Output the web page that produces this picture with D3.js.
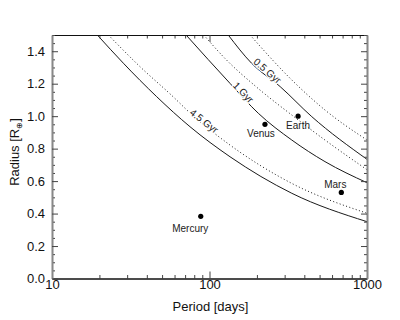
<!DOCTYPE html>
<html>
<head>
<meta charset="utf-8">
<script src="https://cdn.jsdelivr.net/npm/d3@7"></script>
<style>
  body { margin: 0; background: #fff; }
  svg { display: block; font-family: "Liberation Sans", Arial, Helvetica, sans-serif; }
</style>
</head>
<body>
<svg id="chart" width="400" height="320"></svg>
<script>
// period [days] / radius [R_earth] pairs
const p45 = [19.4, 28.4, 46.2, 75.2, 135, 333, 1000];
const r45 = [1.5, 1.326, 1.12, 0.935, 0.75, 0.525, 0.35];
const p45d = [22.8, 36.2, 58.7, 75.2, 135, 333, 1000];
const r45d = [1.5, 1.305, 1.12, 1.02, 0.822, 0.586, 0.402];
const p1 = [71, 135, 204, 333, 541, 1000];
const r1 = [1.5, 1.202, 1.018, 0.853, 0.72, 0.59];
const p1d = [92, 125, 203, 333, 541, 1000];
const r1d = [1.5, 1.357, 1.172, 1.007, 0.853, 0.67];
const p05 = [131.5, 185, 281, 446, 1000];
const r05 = [1.5, 1.326, 1.182, 0.997, 0.734];
const p05d = [181, 333, 541, 1000];
const r05d = [1.5, 1.223, 1.038, 0.853];

const ageLabels = ["4.5 Gyr", "1 Gyr", "0.5 Gyr"];
const agePeriods = [92.3, 164, 233];
const ageRadii = [0.97, 1.146, 1.279];

const planets = ["Mercury", "Venus", "Earth", "Mars"];
const planetPeriods = [88, 225, 365, 687];
const planetRadii = [0.383, 0.95, 1.0, 0.53];

const xTicks = [10, 100, 1000];
const yTicks = [0, 0.2, 0.4, 0.6, 0.8, 1.0, 1.2, 1.4];

// layout
const labelAngle = { "4.5 Gyr": 38, "1 Gyr": 46, "0.5 Gyr": 41 };
const planetOffset = {
  Mercury: [-10.5, 15.5], Venus: [-4, 13.2], Earth: [0, 13], Mars: [-6, -4.2]
};

const svg = d3.select("#chart");
const mLeft = 52, mRight = 367, mTop = 35, mBottom = 278.5;

const x = d3.scaleLog().domain([10, 1000]).range([mLeft, mRight]);
const y = d3.scaleLinear().domain([0, 1.5]).range([mBottom, mTop]);

const xMinor = [];
[10, 100].forEach(d => { for (let k = 2; k <= 9; k++) xMinor.push(d * k); });
const yMinor = d3.range(0, 31).map(i => i * 0.05).filter((v, i) => i % 4 !== 0);

svg.append("clipPath").attr("id", "plot")
  .append("rect").attr("x", mLeft).attr("y", mTop)
  .attr("width", mRight - mLeft).attr("height", mBottom - mTop);

const line = d3.line()
  .x(d => x(d[0]))
  .y(d => y(d[1]))
  .curve(d3.curveMonotoneX);

const curves = [
  [p45, r45, false], [p45d, r45d, true],
  [p1, r1, false], [p1d, r1d, true],
  [p05, r05, false], [p05d, r05d, true]
];

const g = svg.append("g").attr("clip-path", "url(#plot)");
curves.forEach(([ps, rs, dotted]) => {
  g.append("path")
    .datum(ps.map((p, i) => [p, rs[i]]))
    .attr("d", line)
    .attr("fill", "none")
    .attr("stroke", "#1a1a1a")
    .attr("stroke-width", 1)
    .attr("stroke-dasharray", dotted ? "1,2.4" : null);
});

// curve labels
ageLabels.forEach((t, i) => {
  const cx = x(agePeriods[i]), cy = y(ageRadii[i]);
  svg.append("text")
    .attr("transform", `translate(${cx},${cy}) rotate(${labelAngle[t]})`)
    .attr("text-anchor", "middle")
    .attr("dy", "0.35em")
    .attr("font-size", 10)
    .attr("fill", "#222")
    .attr("stroke", "#fff")
    .attr("stroke-width", 2.5)
    .attr("paint-order", "stroke")
    .text(t);
});

// planets
planets.forEach((name, i) => {
  const px = x(planetPeriods[i]), py = y(planetRadii[i]);
  svg.append("circle").attr("cx", px).attr("cy", py).attr("r", 2.6).attr("fill", "#000");
  const [dx, dy] = planetOffset[name];
  svg.append("text")
    .attr("x", px + dx).attr("y", py + dy)
    .attr("text-anchor", "middle")
    .attr("font-size", 10)
    .attr("fill", "#222")
    .text(name);
});

// axes
function styleAxis(sel, domainColor, domainWidth) {
  sel.select(".domain").attr("stroke", domainColor).attr("stroke-width", domainWidth);
  sel.selectAll(".tick line").attr("stroke", "#444");
  sel.selectAll(".tick text").attr("fill", "#111").attr("font-size", 13).attr("font-family", null);
}

const fmt = d3.format(".1f");

svg.append("g").attr("transform", `translate(0,${mBottom})`)
  .call(d3.axisBottom(x).tickValues(xMinor).tickSize(-3.5).tickFormat("").tickSizeOuter(0))
  .call(s => styleAxis(s, "#111", 1));
svg.append("g").attr("transform", `translate(0,${mBottom})`)
  .call(d3.axisBottom(x).tickValues(xTicks).tickSize(-7).tickPadding(1).tickFormat(d3.format("d")).tickSizeOuter(0))
  .call(s => styleAxis(s, "#111", 1));

svg.append("g").attr("transform", `translate(0,${mTop})`)
  .call(d3.axisTop(x).tickValues(xMinor).tickSize(-3.5).tickFormat("").tickSizeOuter(0))
  .call(s => styleAxis(s, "#111", 1));
svg.append("g").attr("transform", `translate(0,${mTop})`)
  .call(d3.axisTop(x).tickValues(xTicks).tickSize(-7).tickFormat("").tickSizeOuter(0))
  .call(s => styleAxis(s, "#111", 1));

svg.append("g").attr("transform", `translate(${mLeft},0)`)
  .call(d3.axisLeft(y).tickValues(yMinor).tickSize(-3).tickFormat("").tickSizeOuter(0))
  .call(s => styleAxis(s, "#888", 1.6));
svg.append("g").attr("transform", `translate(${mLeft},0)`)
  .call(d3.axisLeft(y).tickValues(yTicks).tickSize(-6).tickPadding(7).tickFormat(fmt).tickSizeOuter(0))
  .call(s => styleAxis(s, "#888", 1.6));

svg.append("g").attr("transform", `translate(${mRight},0)`)
  .call(d3.axisRight(y).tickValues(yMinor).tickSize(-3).tickFormat("").tickSizeOuter(0))
  .call(s => styleAxis(s, "#888", 1.6));
svg.append("g").attr("transform", `translate(${mRight},0)`)
  .call(d3.axisRight(y).tickValues(yTicks).tickSize(-6).tickFormat("").tickSizeOuter(0))
  .call(s => styleAxis(s, "#888", 1.6));

// axis titles
svg.append("text")
  .attr("x", (mLeft + mRight) / 2 + 1).attr("y", 311)
  .attr("text-anchor", "middle").attr("font-size", 13).attr("fill", "#111")
  .text("Period [days]");

const yt = svg.append("text")
  .attr("transform", `translate(18.5,152) rotate(-90)`)
  .attr("text-anchor", "middle").attr("font-size", 13).attr("fill", "#111");
yt.append("tspan").text("Radius [R");
yt.append("tspan").attr("font-size", 8).attr("dy", 3).text("⊕");
yt.append("tspan").attr("dy", -3).text("]");
</script>
</body>
</html>
